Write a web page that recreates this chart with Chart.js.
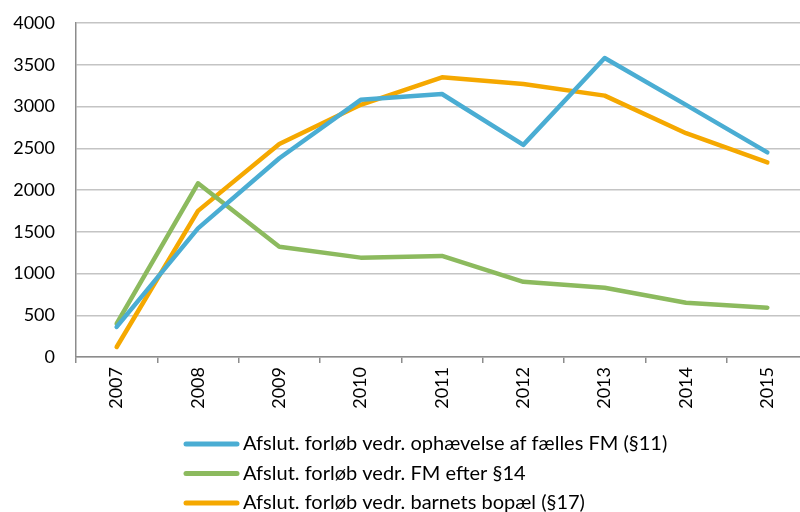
<!DOCTYPE html>
<html>
<head>
<meta charset="utf-8">
<script src="https://cdn.jsdelivr.net/npm/chart.js@4"></script>
<style>
	html, body { margin: 0; padding: 0; overflow: hidden; background: #fff; }
	#wrap { width: 808px; height: 512px; }
</style>
</head>
<body>
<div id="wrap"><canvas id="caseChart"></canvas></div>
<script>
const years = ['2007', '2008', '2009', '2010', '2011', '2012', '2013', '2014', '2015'];
const seriesNames = [
	'Afslut. forløb vedr. ophævelse af fælles FM (§11)',
	'Afslut. forløb vedr. FM efter §14',
	'Afslut. forløb vedr. barnets bopæl (§17)'
];
const ophaevelse = [360, 1540, 2380, 3080, 3150, 2540, 3580, 3020, 2450];
const efter14 = [400, 2080, 1320, 1190, 1210, 900, 830, 650, 590];
const bopael = [120, 1750, 2550, 3020, 3350, 3270, 3130, 2680, 2330];
const yTicks = [0, 500, 1000, 1500, 2000, 2500, 3000, 3500, 4000];

const colors = ['#4AADD3', '#8CBA5E', '#F5A800'];

// legend drawn as a plain vertical list under the axis
const listLegend = {
	id: 'listLegend',
	afterDraw(chart) {
		const ctx = chart.ctx;
		ctx.save();
		ctx.font = '20px Lato';
		ctx.textBaseline = 'middle';
		ctx.textAlign = 'left';
		chart.data.datasets.forEach((ds, i) => {
			const y = 444 + i * 29.5;
			ctx.strokeStyle = ds.borderColor;
			ctx.lineWidth = 5;
			ctx.lineCap = 'round';
			ctx.beginPath();
			ctx.moveTo(186, y);
			ctx.lineTo(237, y);
			ctx.stroke();
			ctx.fillStyle = '#000';
			ctx.fillText(ds.label, 243, y);
		});
		ctx.restore();
	}
};

function line(label, data, color) {
	return {
		label: label,
		data: data,
		borderColor: color,
		backgroundColor: color,
		borderWidth: 4.5,
		borderCapStyle: 'round',
		borderJoinStyle: 'round',
		pointRadius: 0,
		tension: 0,
		fill: false
	};
}

new Chart(document.getElementById('caseChart'), {
	type: 'line',
	data: {
		labels: years,
		datasets: [
			line(seriesNames[0], ophaevelse, colors[0]),
			line(seriesNames[1], efter14, colors[1]),
			line(seriesNames[2], bopael, colors[2])
		]
	},
	options: {
		responsive: true,
		maintainAspectRatio: false,
		animation: false,
		layout: { padding: { top: 23, left: 0, right: 0, bottom: 99 } },
		plugins: {
			legend: { display: false },
			tooltip: { enabled: false }
		},
		scales: {
			x: {
				offset: true,
				grid: {
					offset: true,
					drawOnChartArea: false,
					drawTicks: true,
					tickLength: 6,
					color: '#8c8c8c',
					lineWidth: 1.5
				},
				border: { color: '#8c8c8c', width: 1.5 },
				ticks: {
					minRotation: 90,
					maxRotation: 90,
					padding: 4,
					color: '#000',
					font: { family: 'Lato', size: 18 }
				},
				afterFit: s => { s.height = 56; }
			},
			y: {
				min: 0,
				max: 4000,
				afterBuildTicks: s => { s.ticks = yTicks.map(v => ({ value: v })); },
				grid: {
					drawTicks: false,
					color: '#c4c4c4',
					lineWidth: 1.5
				},
				border: { color: '#8c8c8c', width: 1.5 },
				ticks: {
					padding: 21,
					color: '#000',
					font: { family: 'Lato', size: 18 },
					callback: v => String(v)
				},
				afterFit: s => {
					s.width = 76;
					s.paddingTop = 0;
					s.paddingBottom = 0;
				}
			}
		}
	},
	plugins: [listLegend]
});
</script>
</body>
</html>
